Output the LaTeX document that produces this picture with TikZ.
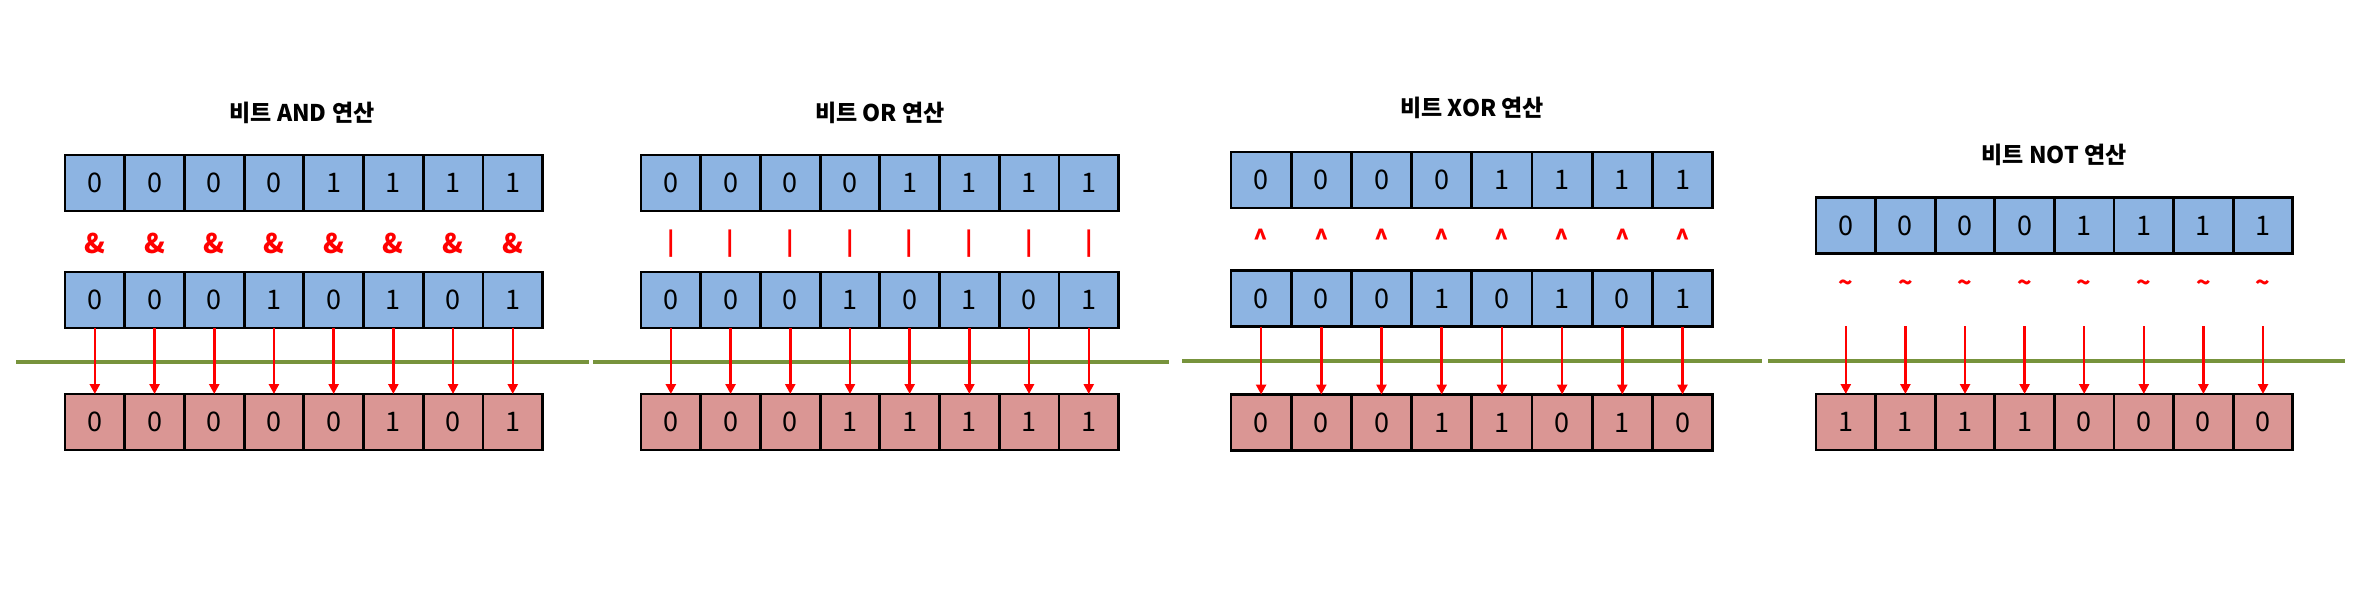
\documentclass[tikz,border=0pt]{standalone}
\usepackage{fontspec}
\setmainfont{Noto Sans CJK KR}
\usetikzlibrary{arrows.meta}
\definecolor{cellblue}{HTML}{8DB4E2}
\definecolor{cellred}{HTML}{DA9694}
\definecolor{lineolive}{HTML}{77933C}
\definecolor{opred}{HTML}{FF0000}
\tikzset{
  cellbox/.style={draw=black, line width=2.8pt, minimum width=#1, minimum height=56pt,
    inner sep=0pt, outer sep=0pt, font=\fontsize{27}{27}\selectfont},
  bluecell/.style={cellbox=#1, fill=cellblue},
  redcell/.style={cellbox=#1, fill=cellred},
  titletext/.style={font=\fontsize{23}{23}\selectfont\bfseries, text=black},
  optext/.style={text=opred, font=\fontsize{27}{27}\selectfont\bfseries, inner sep=0pt},
  optextsmall/.style={text=opred, font=\fontsize{24}{24}\selectfont\bfseries, inner sep=0pt},
  sepline/.style={draw=lineolive, line width=4pt},
  bitarrow/.style={draw=opred, line width=2.5pt, -{Triangle[length=10pt,width=10pt]}}
}
\begin{document}
\begin{tikzpicture}[x=1pt,y=-1pt]
\useasboundingbox (0,0) rectangle (2362,591);

% separator lines
\draw[sepline] (16,362) -- (589,362);
\draw[sepline] (593,362) -- (1169,362);
\draw[sepline] (1182,361) -- (1762,361);
\draw[sepline] (1768,361) -- (2345,361);

% ---------- Panel 1: AND ----------
\node[titletext] (t1) at (302,113) {비트 AND 연산};
\foreach \v [count=\i] in {0,0,0,0,1,1,1,1}
  \node[bluecell=59.7pt] (a\i) at ({65+59.7*(\i-0.5)},183) {\v};
\foreach \v [count=\i] in {0,0,0,1,0,1,0,1}
  \node[bluecell=59.7pt] (b\i) at ({65+59.7*(\i-0.5)},300) {\v};
\foreach \v [count=\i] in {0,0,0,0,0,1,0,1}
  \node[redcell=59.7pt] (c\i) at ({65+59.7*(\i-0.5)},422) {\v};
\foreach \i in {1,...,8} {
  \node[optext] (o\i) at ({65+59.7*(\i-0.5)},243) {\&};
  \draw[bitarrow] (b\i.south) -- (c\i.north);
}

% ---------- Panel 2: OR ----------
\node[titletext] (t2) at (880,113) {비트 OR 연산};
\foreach \v [count=\i] in {0,0,0,0,1,1,1,1}
  \node[bluecell=59.7pt] (d\i) at ({641+59.7*(\i-0.5)},183) {\v};
\foreach \v [count=\i] in {0,0,0,1,0,1,0,1}
  \node[bluecell=59.7pt] (e\i) at ({641+59.7*(\i-0.5)},300) {\v};
\foreach \v [count=\i] in {0,0,0,1,1,1,1,1}
  \node[redcell=59.7pt] (f\i) at ({641+59.7*(\i-0.5)},422) {\v};
\foreach \i in {1,...,8} {
  \node[optextsmall] (p\i) at ({641+59.7*(\i-0.5)},244) {|};
  \draw[bitarrow] (e\i.south) -- (f\i.north);
}

% ---------- Panel 3: XOR ----------
\node[titletext] (t3) at (1472,108) {비트 XOR 연산};
\foreach \v [count=\i] in {0,0,0,0,1,1,1,1}
  \node[bluecell=60.2pt] (g\i) at ({1231+60.2*(\i-0.5)},180) {\v};
\foreach \v [count=\i] in {0,0,0,1,0,1,0,1}
  \node[bluecell=60.2pt] (h\i) at ({1231+60.2*(\i-0.5)},298.5) {\v};
\foreach \v [count=\i] in {0,0,0,1,1,0,1,0}
  \node[redcell=60.2pt] (k\i) at ({1231+60.2*(\i-0.5)},422.5) {\v};
\foreach \i in {1,...,8} {
  \node[optextsmall] (q\i) at ({1231+60.2*(\i-0.5)},238) {\^{}};
  \draw[bitarrow] (h\i.south) -- (k\i.north);
}

% ---------- Panel 4: NOT ----------
\node[titletext] (t4) at (2054,155) {비트 NOT 연산};
\foreach \v [count=\i] in {0,0,0,0,1,1,1,1}
  \node[bluecell=59.6pt] (m\i) at ({1816+59.6*(\i-0.5)},225.5) {\v};
\foreach \v [count=\i] in {1,1,1,1,0,0,0,0}
  \node[redcell=59.6pt] (n\i) at ({1816+59.6*(\i-0.5)},422) {\v};
\foreach \i in {1,...,8} {
  \node[optextsmall] (r\i) at ({1816+59.6*(\i-0.5)},286) {\char`\~};
  \coordinate (s\i) at ({1816+59.6*(\i-0.5)},326);
  \draw[bitarrow] (s\i) -- (n\i.north);
}
\end{tikzpicture}
\end{document}
